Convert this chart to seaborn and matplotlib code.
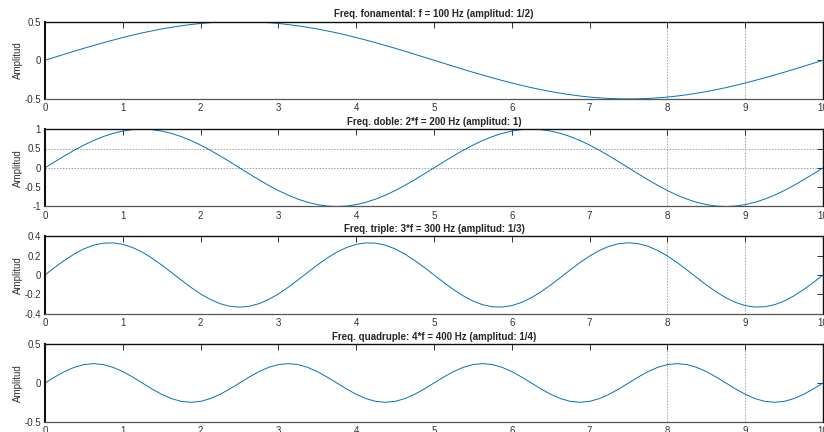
import seaborn as sns
import matplotlib.pyplot as plt
import pandas as pd

sns.set_theme(style="white")
plt.rcParams['font.family'] = ['Liberation Sans', 'DejaVu Sans']

# temps (ms), pas de 0.125
t = [0, 0.125, 0.25, 0.375, 0.5, 0.625, 0.75, 0.875, 1, 1.125, 1.25, 1.375, 1.5, 1.625,
     1.75, 1.875, 2, 2.125, 2.25, 2.375, 2.5, 2.625, 2.75, 2.875, 3, 3.125, 3.25, 3.375,
     3.5, 3.625, 3.75, 3.875, 4, 4.125, 4.25, 4.375, 4.5, 4.625, 4.75, 4.875, 5, 5.125,
     5.25, 5.375, 5.5, 5.625, 5.75, 5.875, 6, 6.125, 6.25, 6.375, 6.5, 6.625, 6.75, 6.875,
     7, 7.125, 7.25, 7.375, 7.5, 7.625, 7.75, 7.875, 8, 8.125, 8.25, 8.375, 8.5, 8.625,
     8.75, 8.875, 9, 9.125, 9.25, 9.375, 9.5, 9.625, 9.75, 9.875, 10]

# senyal 100 Hz
y1 = [0, 0.039, 0.078, 0.117, 0.155, 0.191, 0.227, 0.261, 0.294, 0.325, 0.354,
      0.380, 0.405, 0.426, 0.446, 0.462, 0.476, 0.486, 0.494, 0.498, 0.5,
      0.498, 0.494, 0.486, 0.476, 0.462, 0.446, 0.426, 0.405, 0.380, 0.354,
      0.325, 0.294, 0.261, 0.227, 0.191, 0.155, 0.117, 0.078, 0.039, 0,
      -0.039, -0.078, -0.117, -0.155, -0.191, -0.227, -0.261, -0.294, -0.325, -0.354,
      -0.380, -0.405, -0.426, -0.446, -0.462, -0.476, -0.486, -0.494, -0.498, -0.5,
      -0.498, -0.494, -0.486, -0.476, -0.462, -0.446, -0.426, -0.405, -0.380, -0.354,
      -0.325, -0.294, -0.261, -0.227, -0.191, -0.155, -0.117, -0.078, -0.039, 0]
# senyal 200 Hz
y2 = [0, 0.156, 0.309, 0.454, 0.588, 0.707, 0.809, 0.891, 0.951, 0.988, 1,
      0.988, 0.951, 0.891, 0.809, 0.707, 0.588, 0.454, 0.309, 0.156, 0,
      -0.156, -0.309, -0.454, -0.588, -0.707, -0.809, -0.891, -0.951, -0.988, -1,
      -0.988, -0.951, -0.891, -0.809, -0.707, -0.588, -0.454, -0.309, -0.156, 0,
      0.156, 0.309, 0.454, 0.588, 0.707, 0.809, 0.891, 0.951, 0.988, 1,
      0.988, 0.951, 0.891, 0.809, 0.707, 0.588, 0.454, 0.309, 0.156, 0,
      -0.156, -0.309, -0.454, -0.588, -0.707, -0.809, -0.891, -0.951, -0.988, -1,
      -0.988, -0.951, -0.891, -0.809, -0.707, -0.588, -0.454, -0.309, -0.156, 0]
# senyal 300 Hz
y3 = [0, 0.078, 0.151, 0.216, 0.270, 0.308, 0.329, 0.332, 0.317, 0.284, 0.236,
      0.174, 0.103, 0.026, -0.052, -0.128, -0.196, -0.253, -0.297, -0.324, -0.333,
      -0.324, -0.297, -0.253, -0.196, -0.128, -0.052, 0.026, 0.103, 0.174, 0.236,
      0.284, 0.317, 0.332, 0.329, 0.308, 0.270, 0.216, 0.151, 0.078, 0,
      -0.078, -0.151, -0.216, -0.270, -0.308, -0.329, -0.332, -0.317, -0.284, -0.236,
      -0.174, -0.103, -0.026, 0.052, 0.128, 0.196, 0.253, 0.297, 0.324, 0.333,
      0.324, 0.297, 0.253, 0.196, 0.128, 0.052, -0.026, -0.103, -0.174, -0.236,
      -0.284, -0.317, -0.332, -0.329, -0.308, -0.270, -0.216, -0.151, -0.078, 0]
# senyal 400 Hz
y4 = [0, 0.077, 0.147, 0.202, 0.238, 0.25, 0.238, 0.202, 0.147, 0.077,
      0, -0.077, -0.147, -0.202, -0.238, -0.25, -0.238, -0.202, -0.147, -0.077,
      0, 0.077, 0.147, 0.202, 0.238, 0.25, 0.238, 0.202, 0.147, 0.077,
      0, -0.077, -0.147, -0.202, -0.238, -0.25, -0.238, -0.202, -0.147, -0.077,
      0, 0.077, 0.147, 0.202, 0.238, 0.25, 0.238, 0.202, 0.147, 0.077,
      0, -0.077, -0.147, -0.202, -0.238, -0.25, -0.238, -0.202, -0.147, -0.077,
      0, 0.077, 0.147, 0.202, 0.238, 0.25, 0.238, 0.202, 0.147, 0.077,
      0, -0.077, -0.147, -0.202, -0.238, -0.25, -0.238, -0.202, -0.147, -0.077, 0]

titols = ["Freq. fonamental: f = 100 Hz (amplitud: 1/2)",
          "Freq. doble: 2*f = 200 Hz (amplitud: 1)",
          "Freq. triple: 3*f = 300 Hz (amplitud: 1/3)",
          "Freq. quadruple: 4*f = 400 Hz (amplitud: 1/4)"]
yticks = [[-0.5, 0, 0.5],
          [-1, -0.5, 0, 0.5, 1],
          [-0.4, -0.2, 0, 0.2, 0.4],
          [-0.5, 0, 0.5]]
ylims = [(-0.5, 0.5), (-1, 1), (-0.4, 0.4), (-0.5, 0.5)]
xticks = [0, 1, 2, 3, 4, 5, 6, 7, 8, 9, 10]
# linies de graella que es veuen a la imatge
hgrid = [[], [0.5, 0], [], []]

fig = plt.figure(figsize=(8.24, 4.32), dpi=100)
bottoms = [0.771, 0.522, 0.274, 0.024]
senyals = [y1, y2, y3, y4]

for i in range(4):
    ax = fig.add_axes([0.0546, bottoms[i], 0.9443, 0.179])
    df = pd.DataFrame({'t': t, 'y': senyals[i]})
    for g in [8, 9]:
        ax.axvline(g, color='#a0a0a0', lw=0.7, ls=(0, (1.5, 1.5)), zorder=0)
    for g in hgrid[i]:
        ax.axhline(g, color='#a0a0a0', lw=0.7, ls=(0, (1.5, 1.5)), zorder=0)
    sns.lineplot(data=df, x='t', y='y', ax=ax, color='#0072BD', lw=0.7)
    ax.set_xlim(0, 10)
    ax.set_ylim(*ylims[i])
    ax.set_xticks(xticks)
    ax.set_yticks(yticks[i])
    ax.set_yticklabels([('%g' % v) for v in yticks[i]])
    ax.set_xlabel('')
    ax.set_ylabel('Amplitud', fontsize=7, color='#333333', labelpad=1)
    ax.set_title(titols[i], fontsize=7, fontweight='bold', pad=3)
    ax.tick_params(direction='in', top=True, right=True, length=4, width=0.7,
                   labelsize=7, colors='#333333', pad=3)
    for s in ['left', 'top', 'right']:
        ax.spines[s].set_color('#111111')
        ax.spines[s].set_linewidth(1.0)
    ax.spines['left'].set_linewidth(1.5)
    ax.spines['bottom'].set_color('#555555')
    ax.spines['bottom'].set_linestyle((0, (1.5, 1.0)))
    ax.spines['bottom'].set_linewidth(0.9)

plt.savefig('out.png', dpi=100)
